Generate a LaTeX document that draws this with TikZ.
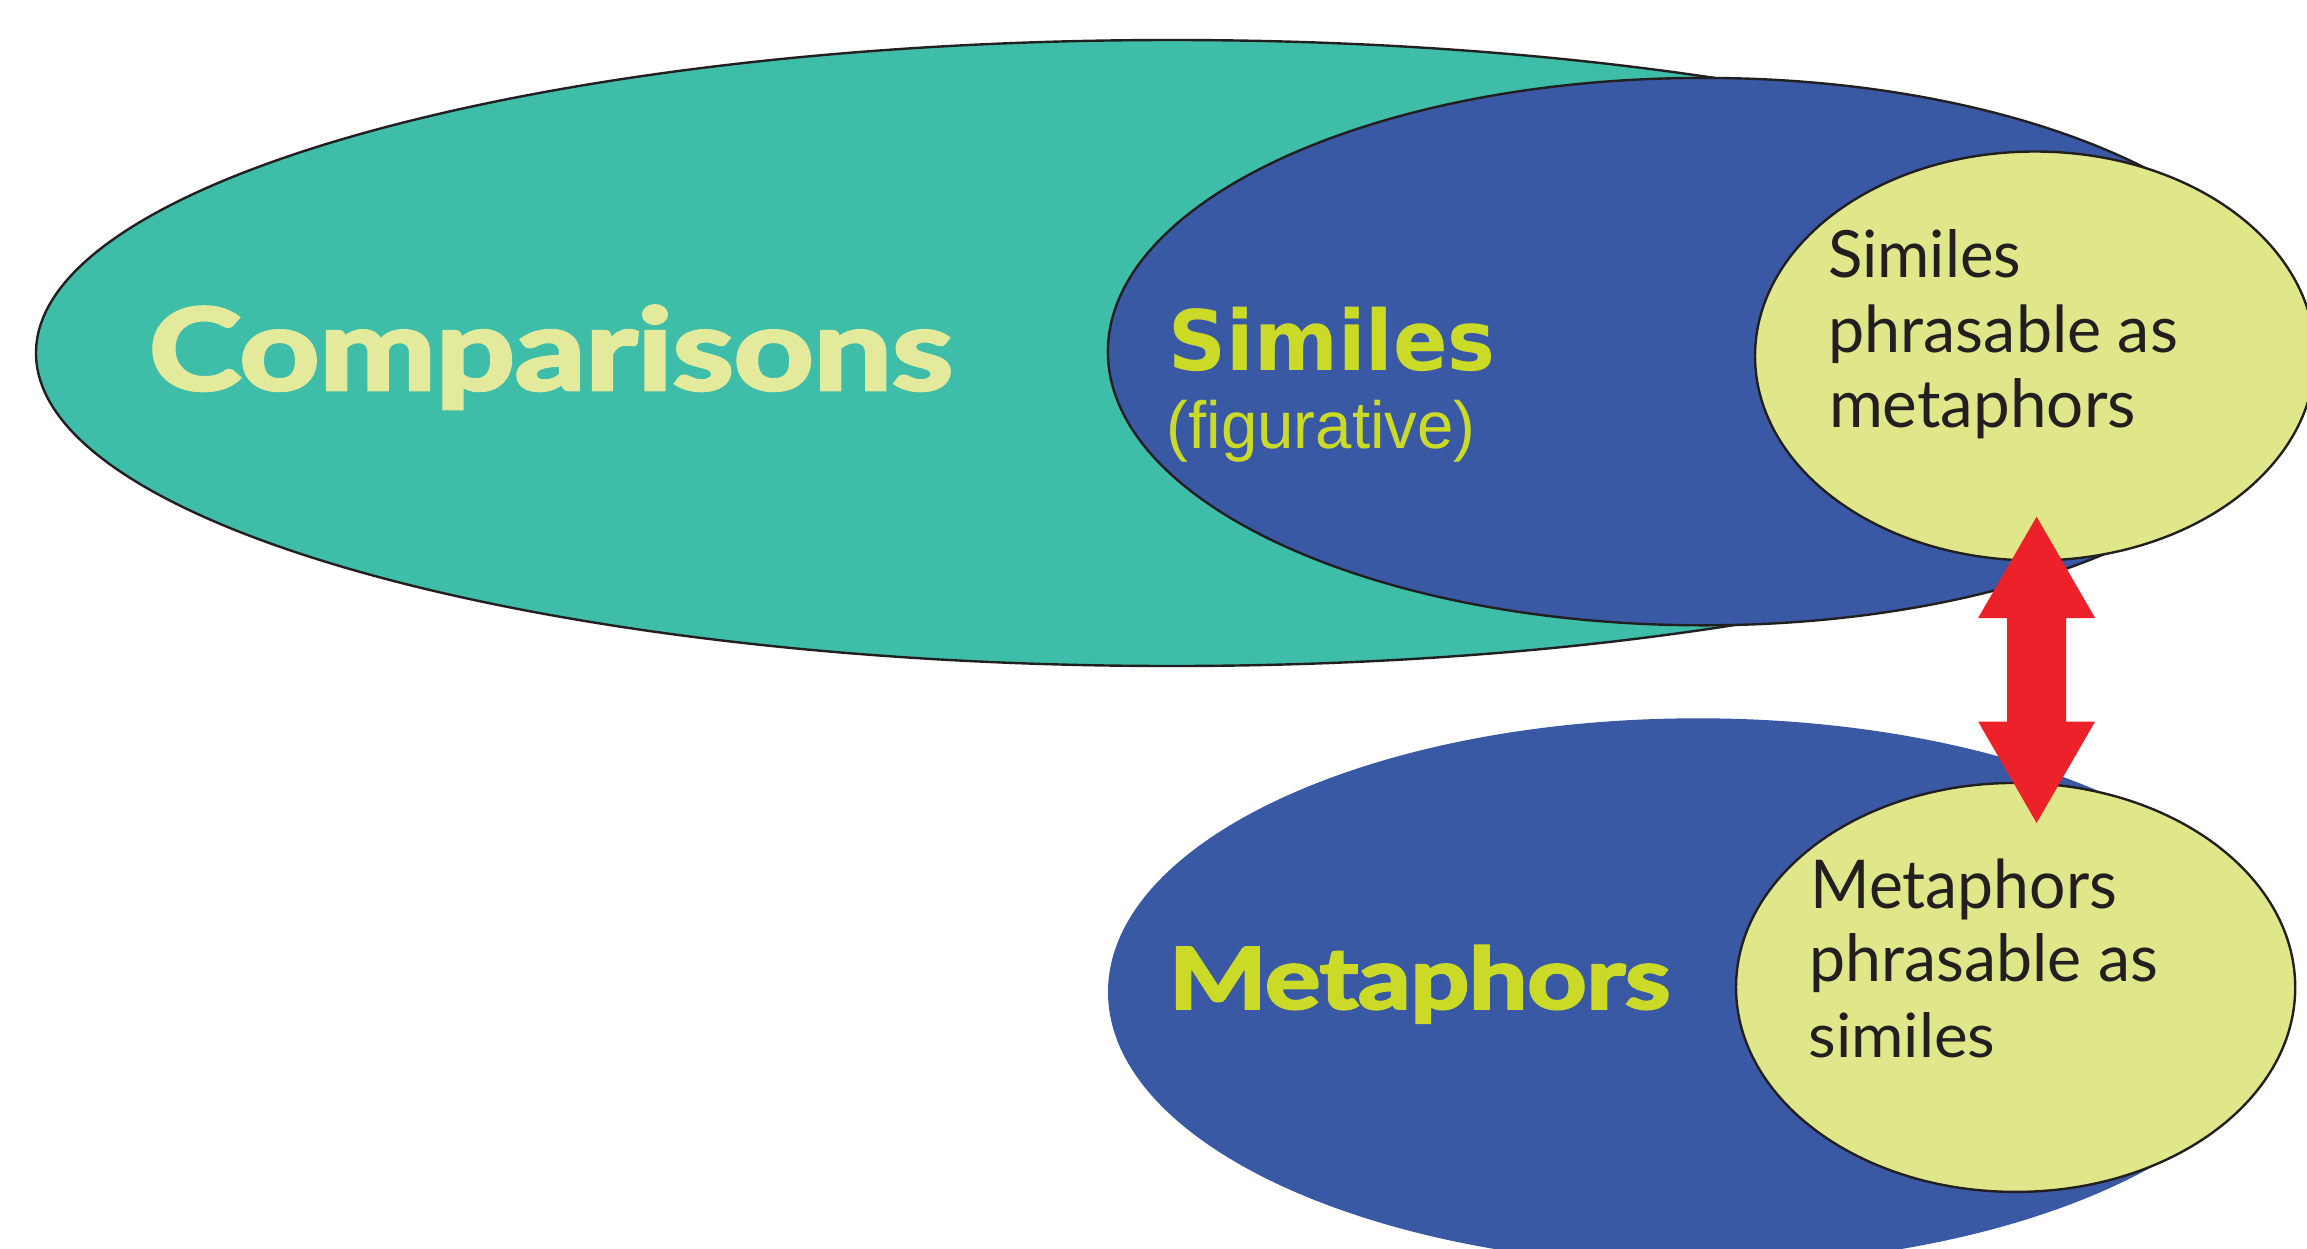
\documentclass[tikz,border=0pt]{standalone}
\usepackage{fontspec}
\usepackage{graphicx}
\usetikzlibrary{calc}
\newfontfamily\latofont{Lato}
\newfontfamily\latoheavy{Lato}[BoldFeatures={FakeBold=3}]
\newfontfamily\dvsans{DejaVu Sans}
\newfontfamily\libsans{Liberation Sans}
\definecolor{tealA}{RGB}{62,189,168}
\definecolor{blueA}{RGB}{58,89,165}
\definecolor{yellA}{RGB}{224,231,138}
\definecolor{txtlight}{RGB}{227,234,155}
\definecolor{txtlime}{RGB}{203,218,39}
\definecolor{redA}{RGB}{237,33,41}
\definecolor{ink}{RGB}{35,31,32}
\newcommand{\fitbox}[3]{\resizebox{#1pt}{#2pt}{\fontsize{60}{72}\selectfont #3}}
\begin{document}
\begin{tikzpicture}[x=1pt,y=-1pt,
  outl/.style={draw=ink, line width=2.4pt},
  lbl/.style={anchor=base west, inner sep=0pt, outer sep=0pt},
  bigtitle/.style={lbl, text=txtlight, font=\latoheavy\bfseries},
  subtitle/.style={lbl, text=txtlime},
  inner/.style={lbl, text=ink, font=\latofont}]
\useasboundingbox (0,0) rectangle (2307,1248);
\clip (0,0) rectangle (2307,1248);
\fill[white] (0,0) rectangle (2307,1248);
% comparisons (teal)
\path[fill=tealA, outl] (1172,353) ellipse [x radius=1136pt, y radius=313pt];
% similes (blue, outlined)
\path[fill=blueA, outl] (1703.5,351.6) ellipse [x radius=595.6pt, y radius=273.7pt];
% similes phrasable as metaphors
\path[fill=yellA, outl] (2035,356) ellipse [x radius=280pt, y radius=204.5pt];
% metaphors (blue, no outline)
\path[fill=blueA] (1698,992) ellipse [x radius=590pt, y radius=273.7pt];
% metaphors phrasable as similes
\path[fill=yellA, outl] (2015.6,987.4) ellipse [x radius=279.6pt, y radius=204.5pt];

% texts
\node[bigtitle] (comparisons) at (149,389.7) {\fitbox{803.6}{84}{Comparisons}};
\node[subtitle, font=\dvsans\bfseries] (similes) at (1168.6,370.7) {\fitbox{327}{63.4}{Similes}};
\node[subtitle, font=\libsans] (figurative) at (1166.7,448.3) {\fitbox{309}{48.3}{(figurative)}};
\node[subtitle, font=\latoheavy\bfseries] (metaphors) at (1169.2,1008.6) {\fitbox{501}{63}{Metaphors}};

\node[inner] (sim1) at (1828,277.8) {\fitbox{193}{48}{Similes}};
\node[inner] (sim2) at (1828.5,352.4) {\fitbox{349.5}{47.7}{phrasable as}};
\node[inner] (sim3) at (1829,427) {\fitbox{307}{49}{metaphors}};

\node[inner] (met1) at (1810.3,908.6) {\fitbox{306.7}{49.6}{Metaphors}};
\node[inner] (met2) at (1809.6,981.8) {\fitbox{348.4}{48}{phrasable as}};
\node[inner] (met3) at (1808.4,1057.3) {\fitbox{187}{45}{similes}};

% double arrow between the two yellow ellipses
\coordinate (atop) at (2036.6,516.7);
\coordinate (abot) at (2036.6,823);
\fill[redA] (atop) -- ($(atop)+(58.5,101.3)$) -- ($(atop)+(29.5,101.3)$)
  -- ($(abot)+(29.5,-101.5)$) -- ($(abot)+(58.5,-101.5)$) -- (abot)
  -- ($(abot)+(-58.5,-101.5)$) -- ($(abot)+(-29.5,-101.5)$)
  -- ($(atop)+(-29.5,101.3)$) -- ($(atop)+(-58.5,101.3)$) -- cycle;
\end{tikzpicture}
\end{document}
